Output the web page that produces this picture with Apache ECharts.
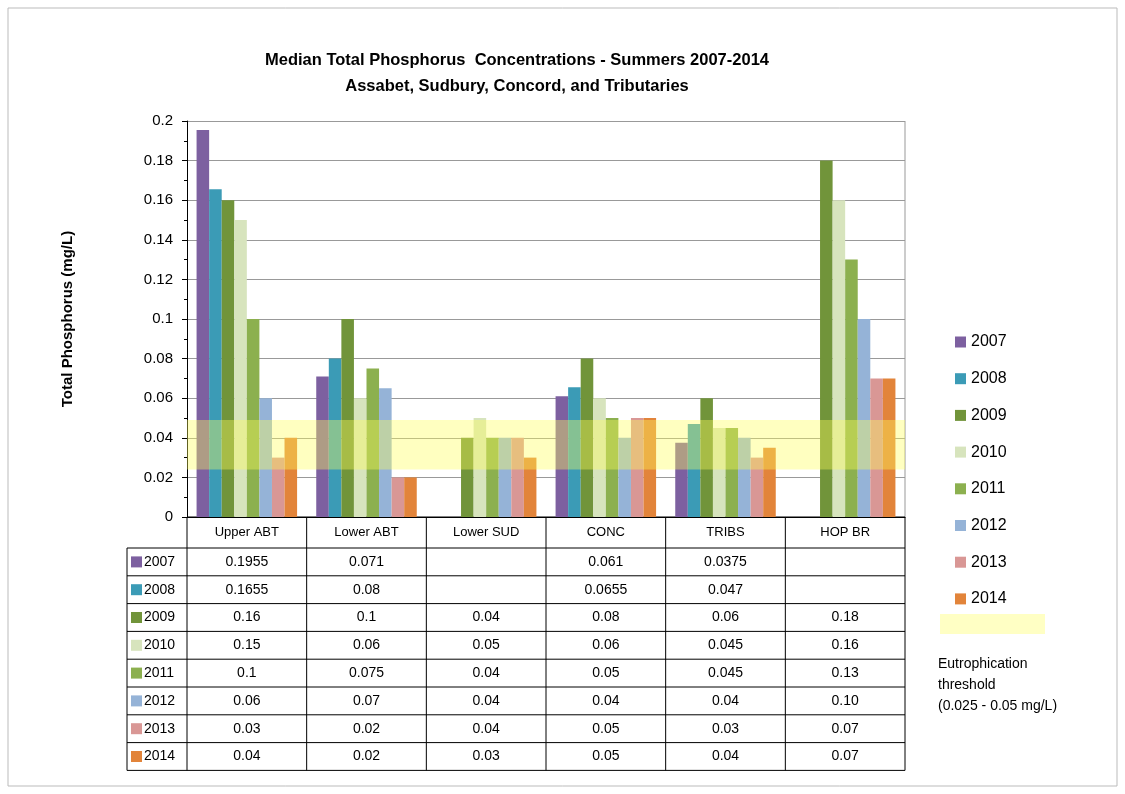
<!DOCTYPE html>
<html>
<head>
<meta charset="utf-8">
<script src="https://cdn.jsdelivr.net/npm/echarts@6/dist/echarts.min.js"></script>
<style>html,body{margin:0;padding:0;background:#fff}#main{width:1125px;height:794px}</style>
</head>
<body>
<div id="main"></div>
<script>
var categories = ['Upper ABT', 'Lower ABT', 'Lower SUD', 'CONC', 'TRIBS', 'HOP BR'];
var years = ['2007', '2008', '2009', '2010', '2011', '2012', '2013', '2014'];
var v2007 = [0.1955, 0.071, null, 0.061, 0.0375, null];
var v2008 = [0.1655, 0.08, null, 0.0655, 0.047, null];
var v2009 = [0.16, 0.1, 0.04, 0.08, 0.06, 0.18];
var v2010 = [0.15, 0.06, 0.05, 0.06, 0.045, 0.16];
var v2011 = [0.1, 0.075, 0.04, 0.05, 0.045, 0.13];
var v2012 = [0.06, 0.065, 0.04, 0.04, 0.04, 0.10];
var v2013 = [0.03, 0.02, 0.04, 0.05, 0.03, 0.07];
var v2014 = [0.04, 0.02, 0.03, 0.05, 0.035, 0.07];
var threshold = [0.024, 0.049];

var allValues = [v2007, v2008, v2009, v2010, v2011, v2012, v2013, v2014];
var colors = ['#7D60A0', '#3B9BB6', '#71943A', '#D7E4BD', '#8CB04F', '#95B3D7', '#D99795', '#E2843A'];
var FONT = 'Liberation Sans';

// plot area in px
var G = {left: 187, right: 220, top: 121, bottom: 277};
var headH = 31, rowH = 27.8;

var series = years.map(function (y, i) {
    return {name: y, type: 'bar', data: allValues[i], itemStyle: {color: colors[i]},
        barGap: '0%', barCategoryGap: '16%'};
});

var myChart = echarts.init(document.getElementById('main'));
var option = {
    animation: false,
    textStyle: {fontFamily: FONT},
    title: {
        text: 'Median Total Phosphorus  Concentrations - Summers 2007-2014\nAssabet, Sudbury, Concord, and Tributaries',
        left: 512, top: 42, textAlign: 'center',
        textStyle: {fontSize: 16.5, fontWeight: 'bold', lineHeight: 26, color: '#000', fontFamily: FONT}
    },
    legend: {
        data: years, orient: 'vertical', left: 950, top: 329, itemWidth: 11, itemHeight: 11,
        itemGap: 20.7, icon: 'rect', textStyle: {fontSize: 16, color: '#000'}
    },
    grid: G,
    xAxis: {
        type: 'category', data: categories,
        axisLine: {lineStyle: {color: '#000'}}, axisTick: {show: false},
        axisLabel: {fontSize: 13, color: '#000', margin: 9},
        splitLine: {show: false}
    },
    yAxis: {
        type: 'value', min: 0, max: 0.2, interval: 0.02,
        name: 'Total Phosphorus (mg/L)', nameLocation: 'middle', nameGap: 112,
        nameTextStyle: {fontSize: 15, fontWeight: 'bold', color: '#000'},
        axisLine: {show: true, lineStyle: {color: '#000'}},
        axisTick: {show: true, length: 5, lineStyle: {color: '#000'}},
        minorTick: {show: true, splitNumber: 2, length: 3, lineStyle: {color: '#000'}},
        axisLabel: {fontSize: 15, color: '#000', margin: 14,
            formatter: function (v) { return String(+v.toFixed(2)); }},
        splitLine: {lineStyle: {color: '#999'}}
    },
    series: series
};
myChart.setOption(option);

function fmt(v, row, col) {
    if (v == null) return '';
    if (row >= 5 || col === 5) return (Math.round(v * 100 + 1e-9) / 100).toFixed(2);
    return String(v);
}

var W = 1125, H = 794;
var x0 = G.left, x1 = W - G.right, yTop = H - G.bottom;
var g = [];
g.push({type: 'rect', shape: {x: 8, y: 8, width: W - 16, height: H - 16},
    style: {fill: 'none', stroke: '#bbb', lineWidth: 1}, silent: true});
// threshold band over the bars
var bTop = myChart.convertToPixel({yAxisIndex: 0}, threshold[1]);
var bBot = myChart.convertToPixel({yAxisIndex: 0}, threshold[0]);
g.push({type: 'rect', z: 100, shape: {x: x0, y: bTop, width: x1 - x0, height: bBot - bTop},
    style: {fill: 'rgba(255,255,90,0.38)'}, silent: true});
// right border of plot
g.push({type: 'line', shape: {x1: x1, y1: G.top, x2: x1, y2: yTop}, style: {stroke: '#999', lineWidth: 1}});
var tableBottom = yTop + headH + rowH * years.length;
var catW = (x1 - x0) / categories.length;
function rowY(r) { return r === 0 ? yTop : yTop + headH + (r - 1) * rowH; }
for (var r = 0; r <= years.length + 1; r++) {
    var yy = rowY(r);
    g.push({type: 'line', shape: {x1: r === 0 ? x0 : 127, y1: yy, x2: x1, y2: yy}, style: {stroke: '#000', lineWidth: 1}});
}
for (var c = 0; c <= categories.length; c++) {
    var xx = x0 + c * catW;
    g.push({type: 'line', shape: {x1: xx, y1: yTop, x2: xx, y2: tableBottom}, style: {stroke: '#000', lineWidth: 1}});
}
g.push({type: 'line', shape: {x1: 127, y1: yTop + headH, x2: 127, y2: tableBottom}, style: {stroke: '#000', lineWidth: 1}});
years.forEach(function (y, i) {
    var cy = rowY(i + 1) + rowH / 2;
    g.push({type: 'rect', shape: {x: 131, y: cy - 5.5, width: 11, height: 11}, style: {fill: colors[i]}});
    g.push({type: 'text', x: 144, y: cy, style: {text: y, font: '14px ' + FONT, fill: '#000', verticalAlign: 'middle'}});
    allValues[i].forEach(function (v, c) {
        var px = myChart.convertToPixel({xAxisIndex: 0}, categories[c]);
        g.push({type: 'text', x: px, y: cy, style: {text: fmt(v, i, c), font: '14px ' + FONT, fill: '#000',
            align: 'center', verticalAlign: 'middle'}});
    });
});
// threshold legend entry
g.push({type: 'rect', shape: {x: 940, y: 614, width: 105, height: 20}, style: {fill: '#FFFFC4'}});
g.push({type: 'text', x: 938, y: 654, style: {text: 'Eutrophication\nthreshold\n(0.025 - 0.05 mg/L)',
    font: '14px ' + FONT, fill: '#000', lineHeight: 21}});
myChart.setOption({graphic: g});
</script>
</body>
</html>
